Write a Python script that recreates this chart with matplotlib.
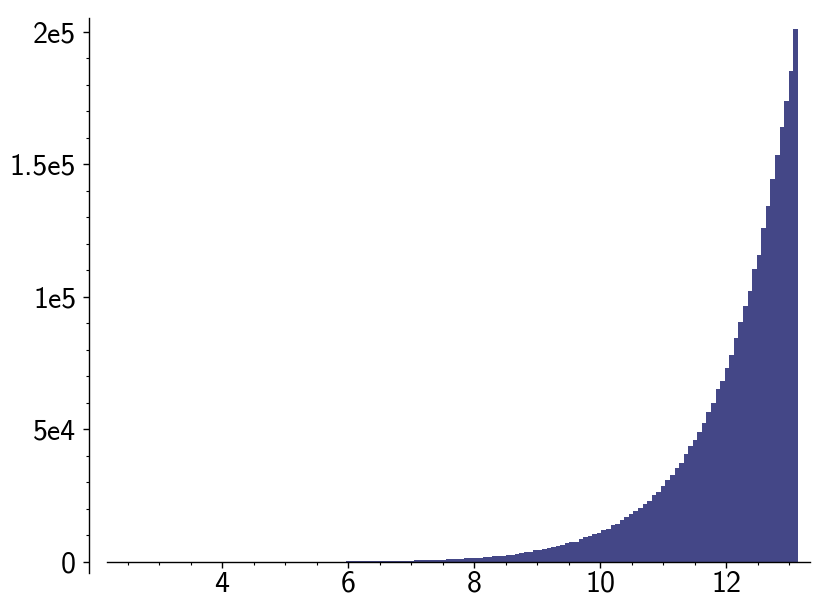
import matplotlib
matplotlib.use("Agg")
import matplotlib.pyplot as plt
import numpy as np

# histogram: 150 equal bins (counts per bin)
bin_start = 2.265
bin_stop = 13.14
counts = [
    3, 4, 4, 5, 5, 6, 6, 7, 7, 8,
    9, 10, 10, 11, 12, 13, 14, 15, 16, 18,
    19, 21, 22, 24, 26, 28, 30, 32, 35, 38,
    41, 44, 47, 51, 55, 59, 64, 69, 74, 80,
    86, 93, 100, 108, 116, 125, 135, 145, 157, 169,
    182, 196, 211, 227, 245, 263, 284, 305, 329, 354,
    381, 410, 442, 476, 512, 552, 594, 640, 689, 742,
    799, 860, 926, 997, 1074, 1157, 1245, 1341, 1444, 1555,
    1675, 1800, 1940, 2090, 2250, 2420, 2610, 2810, 3200, 3450,
    3750, 3900, 4400, 4600, 4900, 5100, 5600, 5900, 6300, 7100,
    7500, 7700, 8700, 9500, 9700, 10500, 11000, 11900, 12600, 14000,
    14500, 16000, 17000, 18000, 19240, 20380, 22000, 23130, 25280, 26530,
    28680, 30940, 32950, 35350, 37240, 40640, 43900, 45920, 48940, 52340,
    56600, 60000, 65280, 68420, 73080, 78230, 84640, 90450, 96720, 102300,
    110570, 115730, 126150, 134220, 144640, 153700, 164040, 173960, 185400, 201000,
]

x_major = [4, 6, 8, 10, 12]
y_major = [0, 50000, 100000, 150000, 200000]
y_labels = ["0", "5e4", "1e5", "1.5e5", "2e5"]

plt.rcParams["font.family"] = ["cmss10", "DejaVu Sans"]
plt.rcParams["axes.unicode_minus"] = False

W, H = 830, 614
fig = plt.figure(figsize=(W / 100, H / 100), dpi=100)
# axes box in pixel coords (left, top, right, bottom)
l, t, r, b = 107, 18, 810, 573
ax = fig.add_axes([l / W, 1 - b / H, (r - l) / W, (b - t) / H])

edges = np.linspace(bin_start, bin_stop, len(counts) + 1)
ax.stairs(counts, edges, fill=True, color="#444787", linewidth=0)

ax.set_xlim(2.1746, 13.333)
ax.set_ylim(-4151, 205283)

for s in ["top", "right"]:
    ax.spines[s].set_visible(False)
ax.spines["bottom"].set_position(("data", 0))
ax.spines["left"].set_position(("outward", 18 * 0.72))
for s in ["bottom", "left"]:
    ax.spines[s].set_linewidth(1.0)

ax.set_xticks(x_major)
ax.set_xticks(np.arange(2.5, 13.01, 0.5), minor=True)
ax.set_yticks(y_major, y_labels)
ax.set_yticks(np.arange(0, 200001, 10000), minor=True)

ax.tick_params(which="major", length=4.3, width=1.0, labelsize=21.5, direction="out")
ax.tick_params(which="minor", length=2.2, width=0.8, direction="out")
ax.tick_params(axis="x", which="major", pad=2)
ax.tick_params(axis="y", which="major", pad=5)

fig.savefig("out.png", dpi=100)
